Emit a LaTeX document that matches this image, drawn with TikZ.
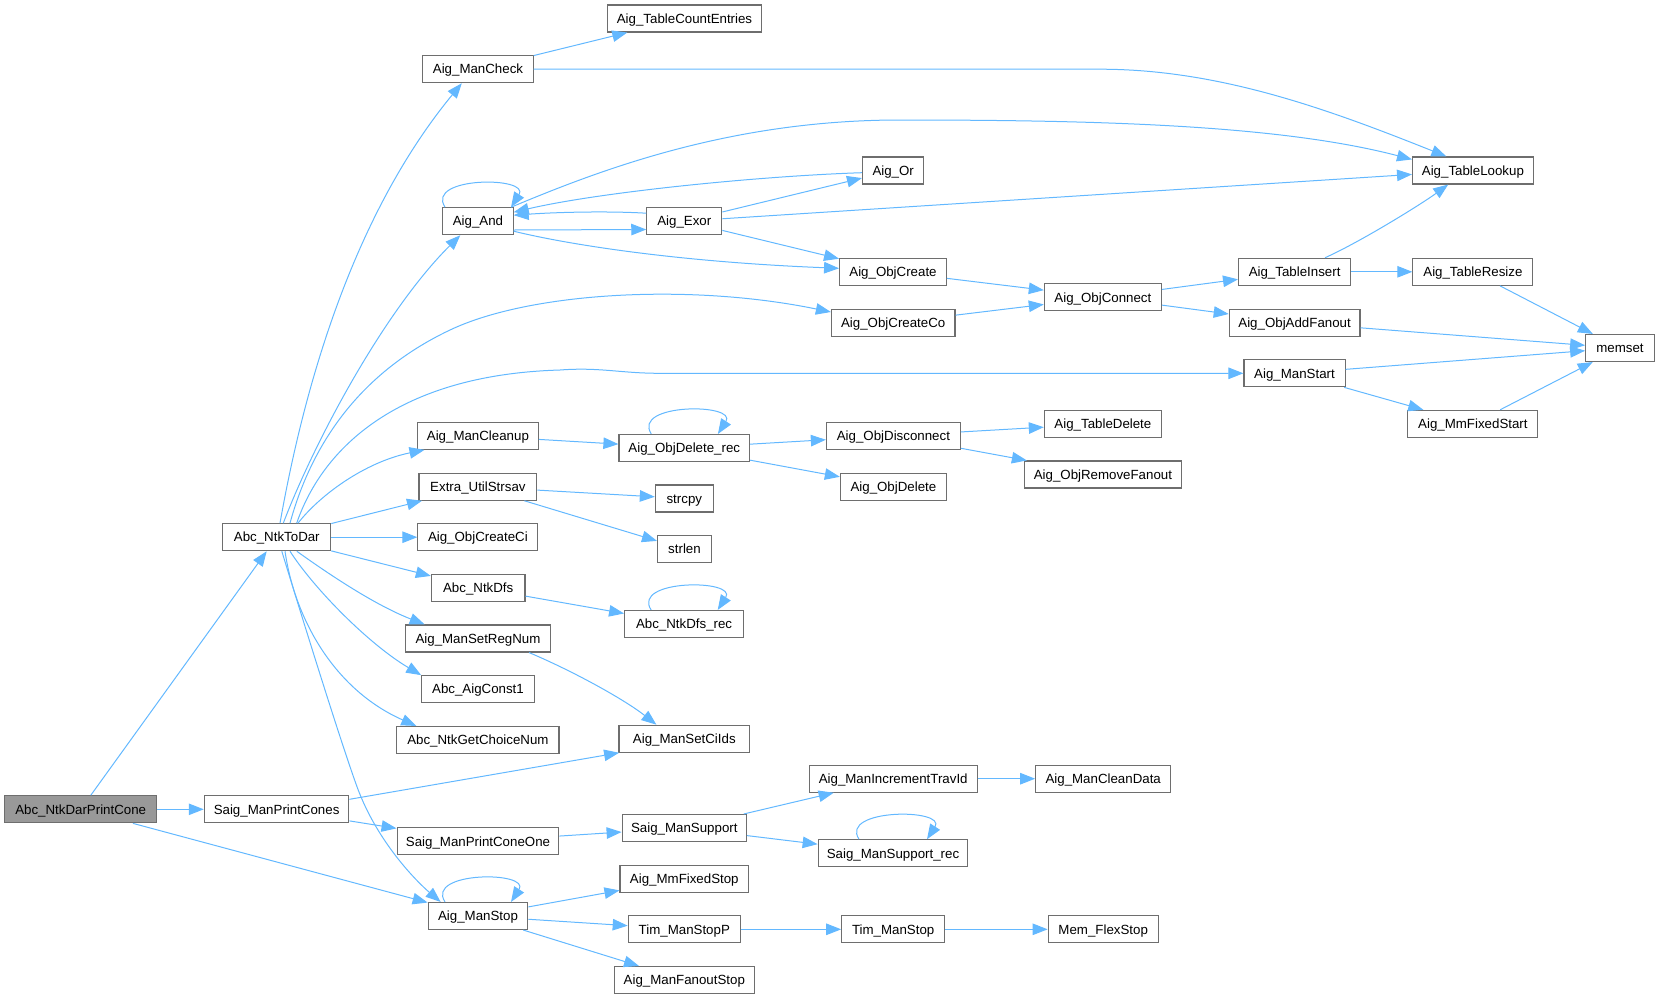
\documentclass[tikz,border=0pt]{standalone}
\usepackage{fontspec}
\setmainfont{Liberation Sans}
\usetikzlibrary{arrows.meta,calc}
\definecolor{edgeblue}{RGB}{99,184,255}
\definecolor{nodeborder}{RGB}{110,110,110}
\definecolor{rootfill}{RGB}{153,153,153}
\begin{document}
\begin{tikzpicture}[x=1pt,y=-1pt,
  fn/.style={draw=nodeborder, line width=1.1pt, fill=white, minimum height=27pt,
    inner xsep=1pt, inner ysep=0pt, text height=9.5pt, text depth=0pt,
    font=\fontsize{13.3}{15}\selectfont, anchor=center},
  rootfn/.style={fn, fill=rootfill},
  edge/.style={draw=edgeblue, line width=1pt, -{Triangle[length=15pt,width=11.5pt]}}]
\useasboundingbox (0,0) rectangle (1659,999);

% column 1-2
\node[rootfn, minimum width=152.1pt] (root) at (80.7,809.3) {Abc\_NtkDarPrintCone};
\node[fn, minimum width=107.9pt] (ntd) at (276.8,537.2) {Abc\_NtkToDar};
\node[fn, minimum width=144.6pt] (spc) at (276.6,809.3) {Saig\_ManPrintCones};
% column 3
\node[fn, minimum width=110.3pt] (mcheck) at (478.0,69.2) {Aig\_ManCheck};
\node[fn, minimum width=70.3pt] (nand) at (478.0,221.2) {Aig\_And};
\node[fn, minimum width=120.7pt] (mclean) at (477.9,435.8) {Aig\_ManCleanup};
\node[fn, minimum width=117.9pt] (strsav) at (477.9,486.7) {Extra\_UtilStrsav};
\node[fn, minimum width=120.0pt] (cci) at (477.9,537.2) {Aig\_ObjCreateCi};
\node[fn, minimum width=93.6pt] (dfs) at (478.2,587.8) {Abc\_NtkDfs};
\node[fn, minimum width=144.6pt] (srn) at (478.0,638.5) {Aig\_ManSetRegNum};
\node[fn, minimum width=112.5pt] (const1) at (478.0,689.2) {Abc\_AigConst1};
\node[fn, minimum width=162.1pt] (gcn) at (477.9,740.0) {Abc\_NtkGetChoiceNum};
\node[fn, minimum width=161.8pt] (pco) at (478.0,841.3) {Saig\_ManPrintConeOne};
\node[fn, minimum width=99.6pt] (mstop) at (478.0,916.0) {Aig\_ManStop};
% column 4
\node[fn, minimum width=154.6pt] (tce) at (684.5,18.5) {Aig\_TableCountEntries};
\node[fn, minimum width=75.0pt] (exor) at (684.3,221.2) {Aig\_Exor};
\node[fn, minimum width=130.7pt] (odr) at (684.3,448.0) {Aig\_ObjDelete\_rec};
\node[fn, minimum width=57.9pt] (strcpy) at (684.3,498.5) {strcpy};
\node[fn, minimum width=53.9pt] (strlen) at (684.5,549.2) {strlen};
\node[fn, minimum width=118.9pt] (dfsrec) at (684.1,624.0) {Abc\_NtkDfs\_rec};
\node[fn, minimum width=130.7pt] (sci) at (684.3,738.7) {Aig\_ManSetCiIds};
\node[fn, minimum width=124.3pt] (sup) at (684.3,828.0) {Saig\_ManSupport};
\node[fn, minimum width=128.6pt] (mfs) at (684.3,878.7) {Aig\_MmFixedStop};
\node[fn, minimum width=112.1pt] (tsp) at (684.3,929.3) {Tim\_ManStopP};
\node[fn, minimum width=140.0pt] (mfo) at (684.3,980.0) {Aig\_ManFanoutStop};
% column 5
\node[fn, minimum width=61.4pt] (nor) at (893.2,170.5) {Aig\_Or};
\node[fn, minimum width=106.8pt] (ocr) at (893.0,271.8) {Aig\_ObjCreate};
\node[fn, minimum width=123.6pt] (occo) at (893.2,322.7) {Aig\_ObjCreateCo};
\node[fn, minimum width=134.0pt] (odis) at (893.4,435.8) {Aig\_ObjDisconnect};
\node[fn, minimum width=106.0pt] (odel) at (893.4,486.7) {Aig\_ObjDelete};
\node[fn, minimum width=167.9pt] (itid) at (893.2,778.7) {Aig\_ManIncrementTravId};
\node[fn, minimum width=149.6pt] (suprec) at (893.0,853.3) {Saig\_ManSupport\_rec};
\node[fn, minimum width=102.9pt] (tms) at (893.2,929.3) {Tim\_ManStop};
% column 6
\node[fn, minimum width=117.1pt] (ocon) at (1102.9,297.3) {Aig\_ObjConnect};
\node[fn, minimum width=117.1pt] (tdel) at (1102.9,423.8) {Aig\_TableDelete};
\node[fn, minimum width=157.1pt] (orf) at (1102.9,474.5) {Aig\_ObjRemoveFanout};
\node[fn, minimum width=135.0pt] (cdata) at (1103.2,778.7) {Aig\_ManCleanData};
\node[fn, minimum width=110.0pt] (flex) at (1103.2,929.3) {Mem\_FlexStop};
% column 7
\node[fn, minimum width=112.1pt] (tins) at (1294.6,271.8) {Aig\_TableInsert};
\node[fn, minimum width=130.7pt] (afan) at (1294.6,322.7) {Aig\_ObjAddFanout};
\node[fn, minimum width=101.1pt] (mstart) at (1294.5,373.3) {Aig\_ManStart};
% column 8-9
\node[fn, minimum width=120.7pt] (tlook) at (1472.9,170.5) {Aig\_TableLookup};
\node[fn, minimum width=120.0pt] (tres) at (1472.9,271.8) {Aig\_TableResize};
\node[fn, minimum width=130.0pt] (mmfs) at (1472.9,423.8) {Aig\_MmFixedStart};
\node[fn, minimum width=68.6pt] (memset) at (1620.0,348.0) {memset};

% ---- edges from root
\draw[edge] (root) -- (ntd);
\draw[edge] (root) -- (spc);
\draw[edge] (root) -- (mstop);

% ---- Abc_NtkToDar fan (upwards)
\draw[edge] ($(ntd.north)+(3.2,0)$) .. controls (300,410) and (345,225) .. ($(mcheck.south west)+(39.5,0)$);
\draw[edge] ($(ntd.north)+(6.5,0)$) .. controls (315,440) and (385,310) .. ($(nand.south west)+(18,0)$);
\draw[edge] ($(ntd.north)+(13.2,0)$) .. controls (310,450) and (355,375) .. (450,330)
   .. controls (530,292) and (690,283) .. ($(occo.west)+(0,-10.7)$);
\draw[edge] ($(ntd.north)+(19.9,0)$) .. controls (320,455) and (390,375) .. (560,370)
   .. controls (600,367) and (620,373.3) .. (660,373.3) -- (mstart.west);
\draw[edge] ($(ntd.north)+(21.2,0)$) .. controls (320,495) and (365,462) .. ($(mclean.south west)+(7.5,0)$);
\draw[edge] (ntd) -- (strsav);
\draw[edge] (ntd) -- (cci);
\draw[edge] (ntd) -- (dfs);
% ---- Abc_NtkToDar fan (downwards)
\draw[edge] ($(ntd.south)+(20,0)$) .. controls (330,575) and (375,605) .. ($(srn.north west)+(19.5,0)$);
\draw[edge] ($(ntd.south)+(13.2,0)$) .. controls (315,590) and (370,645) .. (const1.north west);
\draw[edge] ($(ntd.south)+(8.2,0)$) .. controls (295,620) and (335,690) .. ($(gcn.north west)+(20,0)$);
\draw[edge] ($(ntd.south)+(5,0)$) .. controls (299.5,609) and (339.9,739.7) .. (357,786.7)
   .. controls (377.5,843.1) and (418.4,883) .. ($(mstop.north west)+(13,0)$);

% ---- Aig_ManCheck
\draw[edge] (mcheck) -- (tce);
\draw[edge] (mcheck.east) -- (1100,69.2) .. controls (1220,69.2) and (1330,110) .. ($(tlook.north)+(-26.5,0)$);

% ---- Aig_And / Aig_Exor / Aig_Or
\draw[edge] ($(nand.north)+(-33,0)$) .. controls +(-20,-31) and +(20,-31) .. ($(nand.north)+(33,0)$);
\draw[edge] ($(nand.north east)+(-2.5,0)$) .. controls (600,170) and (730,120) .. (900,120)
   .. controls (1100,120) and (1280,125) .. ($(tlook.north west)+(0,3)$);
\draw[edge] ($(nand.east)+(0,8.8)$) -- ($(exor.west)+(0,8.3)$);
\draw[edge] ($(nand.east)+(0,10)$) .. controls (570,245) and (680,262) .. ($(ocr.west)+(0,-3.5)$);
\draw[edge] ($(nor.west)+(0,2.2)$) .. controls (760,176) and (600,192) .. ($(nand.east)+(0,-9)$);
\draw[edge] ($(exor.west)+(0,-8)$) .. controls (610,211) and (560,212) .. ($(nand.east)+(0,-6)$);
\draw[edge] (exor) -- (nor);
\draw[edge] (exor) -- (tlook);
\draw[edge] (exor) -- (ocr);

% ---- object creation / tables
\draw[edge] (ocr) -- (ocon);
\draw[edge] (occo) -- (ocon);
\draw[edge] (ocon) -- (tins);
\draw[edge] (ocon) -- (afan);
\draw[edge] ($(tins.north)+(30.4,0)$) .. controls (1360,242) and (1420,205) .. ($(tlook.south)+(-24.7,0)$);
\draw[edge] (tins) -- (tres);
\draw[edge] (tres) -- (memset);
\draw[edge] (afan) -- (memset);
\draw[edge] (mstart) -- (memset);
\draw[edge] (mstart) -- (mmfs);
\draw[edge] (mmfs) -- (memset);

% ---- cleanup
\draw[edge] (mclean) -- (odr);
\draw[edge] ($(odr.north)+(-33,0)$) .. controls +(-20,-31) and +(20,-31) .. ($(odr.north)+(33.6,0)$);
\draw[edge] (odr) -- (odis);
\draw[edge] (odr) -- (odel);
\draw[edge] (odis) -- (tdel);
\draw[edge] (odis) -- (orf);

% ---- strings, dfs
\draw[edge] (strsav) -- (strcpy);
\draw[edge] (strsav) -- (strlen);
\draw[edge] (dfs) -- (dfsrec);
\draw[edge] ($(dfsrec.north)+(-33,0)$) .. controls +(-20,-31) and +(20,-31) .. ($(dfsrec.north)+(33.6,0)$);

% ---- CiIds, printing cones
\draw[edge] ($(srn.south east)+(-21.8,0)$) .. controls (575,672) and (625,700) .. ($(sci.north west)+(38,0)$);
\draw[edge] ($(spc.east)+(0,-10)$) -- ($(sci.south west)+(0.7,0)$);
\draw[edge] (spc) -- (pco);
\draw[edge] (pco) -- (sup);
\draw[edge] (sup) -- (itid);
\draw[edge] (sup) -- (suprec);
\draw[edge] ($(suprec.north)+(-34,0)$) .. controls +(-20,-31) and +(20,-31) .. ($(suprec.north)+(34,0)$);
\draw[edge] (itid) -- (cdata);

% ---- Aig_ManStop
\draw[edge] ($(mstop.north)+(-33,0)$) .. controls +(-20,-31) and +(20,-31) .. ($(mstop.north)+(33,0)$);
\draw[edge] (mstop) -- (mfs);
\draw[edge] (mstop) -- (tsp);
\draw[edge] (mstop) -- (mfo);
\draw[edge] (tsp) -- (tms);
\draw[edge] (tms) -- (flex);
\end{tikzpicture}
\end{document}
